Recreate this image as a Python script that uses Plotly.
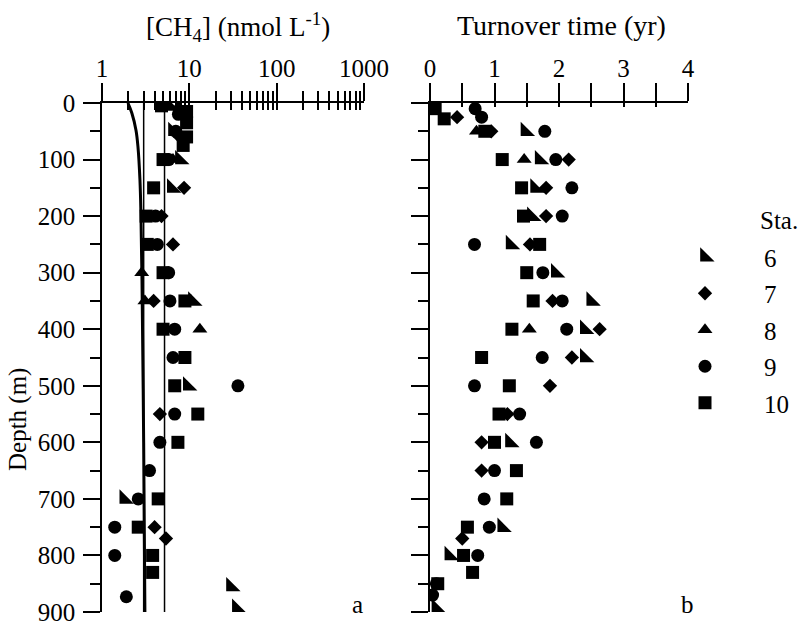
import plotly.graph_objects as go

# ---------------- data ----------------
stations = ["6", "7", "8", "9", "10"]
symbols = ["triangle-sw", "diamond", "triangle-up", "circle", "square"]
sizes = [16, 11, 13, 13, 13]

# [CH4] (nmol/L) profiles by station
ch4_depth_6 = [5, 50, 100, 150, 350, 500, 700, 855, 893]
ch4_val_6 = [6.0, 6.5, 7.8, 6.3, 11.0, 9.6, 1.8, 30, 35]
ch4_depth_7 = [10, 60, 150, 200, 250, 350, 550, 750, 770]
ch4_val_7 = [7.5, 7.8, 8.7, 4.8, 6.5, 3.9, 4.6, 4.0, 5.4]
ch4_depth_8 = [5, 100, 300, 350, 400]
ch4_val_8 = [5.0, 6.5, 2.85, 3.1, 13.2]
ch4_depth_9 = [20, 50, 100, 200, 250, 300, 350, 400, 450, 500, 550, 600, 650, 700, 750, 800, 873]
ch4_val_9 = [7.5, 7.0, 5.8, 4.1, 4.3, 5.8, 6.0, 6.8, 6.5, 36, 6.8, 4.6, 3.5, 2.6, 1.4, 1.4, 1.9]
ch4_depth_10 = [5, 15, 35, 60, 75, 100, 150, 200, 250, 300, 350, 400, 450, 500, 550, 600, 700, 750, 800, 830]
ch4_val_10 = [4.8, 9.3, 9.3, 9.3, 8.5, 5.0, 3.9, 3.2, 3.3, 5.0, 8.9, 5.0, 8.9, 6.8, 12.5, 7.4, 4.4, 2.6, 3.8, 3.8]

# Turnover time (yr) by station
tt_depth_6 = [50, 100, 150, 200, 250, 300, 350, 400, 450, 600, 750, 800, 893]
tt_val_6 = [1.48, 1.7, 1.63, 1.58, 1.25, 1.95, 2.5, 2.4, 2.4, 1.24, 1.12, 0.3, 0.1]
tt_depth_7 = [25, 50, 100, 150, 200, 250, 350, 400, 450, 500, 550, 600, 650, 770]
tt_val_7 = [0.42, 0.95, 2.15, 1.8, 1.8, 1.55, 1.9, 2.63, 2.2, 1.86, 1.2, 0.8, 0.8, 0.5]
tt_depth_8 = [50, 100, 400]
tt_val_8 = [0.72, 1.46, 1.54]
tt_depth_9 = [10, 25, 50, 100, 150, 200, 250, 300, 350, 400, 450, 500, 550, 600, 650, 700, 750, 800, 850, 870]
tt_val_9 = [0.7, 0.8, 1.78, 1.95, 2.2, 2.05, 0.69, 1.75, 2.05, 2.12, 1.74, 0.69, 1.39, 1.65, 1.0, 0.84, 0.92, 0.74, 0.1, 0.04]
tt_depth_10 = [10, 28, 50, 100, 150, 200, 250, 300, 350, 400, 450, 500, 550, 600, 650, 700, 750, 800, 830, 850]
tt_val_10 = [0.08, 0.22, 0.85, 1.12, 1.42, 1.45, 1.7, 1.5, 1.6, 1.27, 0.8, 1.23, 1.07, 1.0, 1.34, 1.19, 0.58, 0.52, 0.66, 0.12]

# equilibrium concentration curve and reference levels
eq_depth = [0, 18, 48, 77, 136, 195, 313, 600, 900]
eq_val = [1.98, 2.2, 2.45, 2.58, 2.72, 2.79, 2.87, 3.0, 3.1]
ref_levels = [3.0, 5.2]
ref_depth = [0, 900]

ch4_depths = [ch4_depth_6, ch4_depth_7, ch4_depth_8, ch4_depth_9, ch4_depth_10]
ch4_vals = [ch4_val_6, ch4_val_7, ch4_val_8, ch4_val_9, ch4_val_10]
tt_depths = [tt_depth_6, tt_depth_7, tt_depth_8, tt_depth_9, tt_depth_10]
tt_vals = [tt_val_6, tt_val_7, tt_val_8, tt_val_9, tt_val_10]

depth_ticks = list(range(0, 901, 100))
log_major = [1, 10, 100, 1000]
log_minor = [m * 10 ** e for e in range(3) for m in range(2, 10)]

FONT = "Liberation Serif"
W, H = 802, 630

fig = go.Figure()

# reference lines and equilibrium curve on the left panel
for lv in ref_levels:
    fig.add_trace(go.Scatter(x=[lv, lv], y=ref_depth, mode="lines",
                             line=dict(color="black", width=1.5),
                             showlegend=False, hoverinfo="skip",
                             xaxis="x", yaxis="y"))
fig.add_trace(go.Scatter(x=eq_val, y=eq_depth, mode="lines",
                         line=dict(color="black", width=3, shape="spline"),
                         showlegend=False, hoverinfo="skip",
                         xaxis="x", yaxis="y"))

for i, st in enumerate(stations):
    mk = dict(symbol=symbols[i], size=sizes[i], color="black",
              line=dict(width=0))
    fig.add_trace(go.Scatter(x=ch4_vals[i], y=ch4_depths[i], mode="markers",
                             marker=mk, showlegend=False,
                             xaxis="x", yaxis="y"))
    fig.add_trace(go.Scatter(x=tt_vals[i], y=tt_depths[i], mode="markers",
                             marker=mk, name=st, legendgroup=st,
                             showlegend=True, xaxis="x2", yaxis="y2"))

# empty traces so the inner-tick overlay axes get drawn
fig.add_trace(go.Scatter(x=[], y=[], xaxis="x3", yaxis="y", showlegend=False))
fig.add_trace(go.Scatter(x=[], y=[], xaxis="x4", yaxis="y2", showlegend=False))

ydom = [1 - 612 / H, 1 - 103 / H]
xdom1 = [102 / W, 364 / W]
xdom2 = [430 / W, 688 / W]
tickfont = dict(family=FONT, size=25, color="black")

common_y = dict(range=[900, 0], domain=ydom, showgrid=False, zeroline=False,
                showline=True, linecolor="black", linewidth=1.5,
                ticks="outside", ticklen=17, tickwidth=1.5, tickcolor="black",
                tickvals=depth_ticks, automargin=False,
                minor=dict(dtick=50, tick0=0, ticks="outside", ticklen=10,
                           tickwidth=1.5, tickcolor="black"),
                tickfont=tickfont)

fig.update_layout(
    width=W, height=H,
    margin=dict(l=0, r=0, t=0, b=0, autoexpand=False),
    paper_bgcolor="white", plot_bgcolor="rgba(0,0,0,0)",
    font=dict(family=FONT, color="black"),
    xaxis=dict(type="log", range=[0, 3], domain=xdom1, anchor="y", side="top",
               showgrid=False, zeroline=False, showline=True,
               linecolor="black", linewidth=1.5, automargin=False,
               ticks="outside", ticklen=18, tickwidth=1.5, tickcolor="black",
               tickvals=log_major, ticktext=["1", "10", "100", "1000"],
               ticklabelstandoff=-4,
               minor=dict(tickvals=log_minor, ticks="outside", ticklen=10,
                          tickwidth=1.5, tickcolor="black"),
               tickfont=tickfont),
    xaxis3=dict(type="log", range=[0, 3], domain=xdom1, anchor="y",
                overlaying="x", side="top", showgrid=False, zeroline=False,
                showline=False, showticklabels=False, automargin=False,
                ticks="inside", ticklen=7, tickwidth=1.5, tickcolor="black",
                tickvals=log_major,
                minor=dict(tickvals=log_minor, ticks="inside", ticklen=7,
                           tickwidth=1.5, tickcolor="black")),
    xaxis2=dict(range=[0, 4], domain=xdom2, anchor="y2", side="top",
                showgrid=False, zeroline=False, showline=True,
                linecolor="black", linewidth=1.5, automargin=False,
                ticks="outside", ticklen=18, tickwidth=1.5, tickcolor="black",
                dtick=1, tick0=0, ticklabelstandoff=-4,
                minor=dict(dtick=0.5, tick0=0, ticks="outside", ticklen=18,
                           tickwidth=1.5, tickcolor="black"),
                tickfont=tickfont),
    xaxis4=dict(range=[0, 4], domain=xdom2, anchor="y2", overlaying="x2",
                side="top", showgrid=False, zeroline=False, showline=False,
                showticklabels=False, ticks="inside", ticklen=4,
                automargin=False,
                tickwidth=1.5, tickcolor="black", dtick=1, tick0=0,
                minor=dict(dtick=0.5, tick0=0, ticks="inside", ticklen=4,
                           tickwidth=1.5, tickcolor="black")),
    yaxis=dict(anchor="x", ticklabelstandoff=3, **common_y),
    yaxis2=dict(anchor="x2", showticklabels=False,
                **{k: v for k, v in common_y.items() if k != "tickfont"}),
    legend=dict(x=646 / W, y=1 - 234 / H, xanchor="left", yanchor="top",
                font=dict(family=FONT, size=25, color="black"),
                bgcolor="rgba(0,0,0,0)", itemwidth=108, tracegroupgap=1),
    showlegend=True,
)

anns = [
    dict(text="[CH<sub>4</sub>] (nmol L<sup>-1</sup>)", x=238 / W, y=1 - 27 / H,
         size=27),
    dict(text="Turnover time (yr)", x=561 / W, y=1 - 26 / H, size=28),
    dict(text="Depth (m)", x=18 / W, y=1 - 420 / H, size=25, angle=-90),
    dict(text="Sta.", x=779 / W, y=1 - 220 / H, size=25),
    dict(text="a", x=357 / W, y=1 - 604 / H, size=25),
    dict(text="b", x=687 / W, y=1 - 604 / H, size=25),
]
for a in anns:
    fig.add_annotation(text=a["text"], x=a["x"], y=a["y"], xref="paper",
                       yref="paper", xanchor="center", yanchor="middle",
                       showarrow=False, textangle=a.get("angle", 0),
                       font=dict(family=FONT, size=a["size"], color="black"))

fig.write_html("out.html")
